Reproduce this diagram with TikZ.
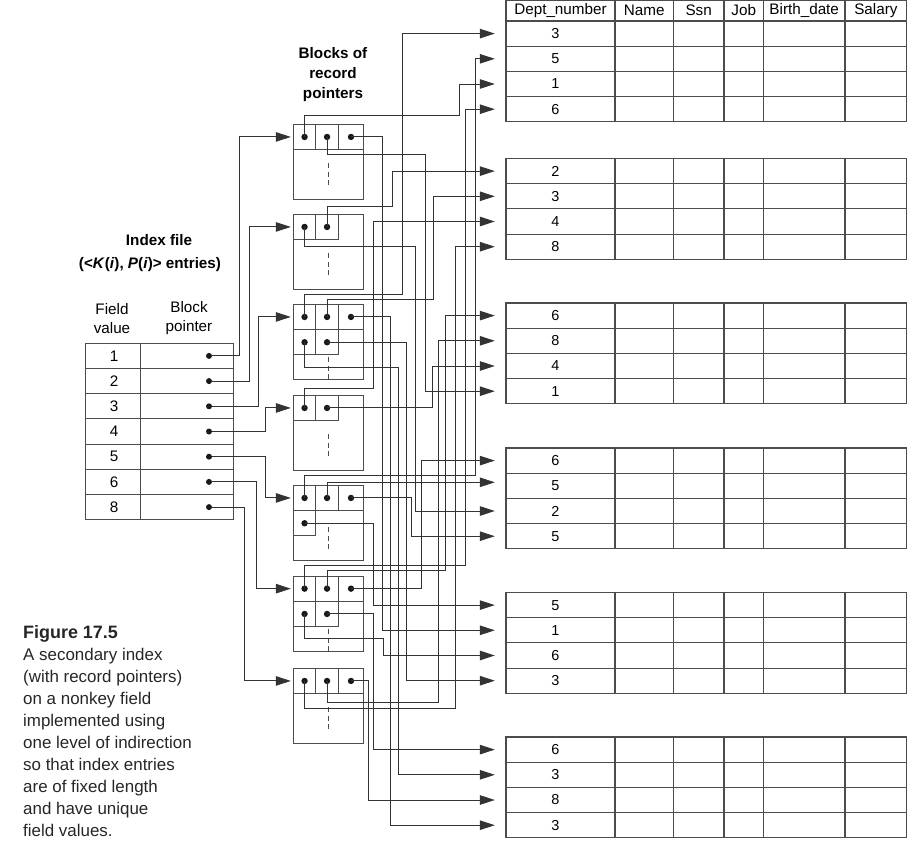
\documentclass[tikz,border=0pt]{standalone}
\usepackage{fontspec}
\setmainfont{Liberation Sans}
\usetikzlibrary{arrows.meta}

\tikzset{
	tbl/.style={draw=black!70, line width=1.1bp},
	wire/.style={draw=black!80, line width=1bp, -{Triangle[length=15bp,width=9.5bp]}},
	idxwire/.style={wire, shorten >=2bp},
	recwire/.style={wire, shorten >=6bp},
	ptrcell/.style={draw=black!70, line width=1bp, minimum width=22.5bp, minimum height=25.3bp, inner sep=0pt,
		path picture={\fill[black!90] (path picture bounding box.center) circle (3.2bp);}},
	lastcell/.style={ptrcell, minimum width=25.4bp},
	blk/.style={draw=black!70, line width=1bp, minimum width=70.4bp, minimum height=75.5bp, inner sep=0pt},
	vdash/.style={draw=black!70, line width=1bp, dash pattern=on 5bp off 3.5bp},
	ptrdot/.style={circle, fill=black!90, inner sep=0pt, minimum size=6bp},
	recval/.style={minimum width=109bp, minimum height=25.2bp, inner sep=0pt, font=\fontsize{14.5}{17}\selectfont},
	lbl/.style={font=\fontsize{15.3}{19}\selectfont, align=center, inner sep=0pt},
}

\begin{document}
\begin{tikzpicture}[x=1bp, y=-1bp]
	\useasboundingbox (0,0) rectangle (922,842);
	\def\rh{25.2}

	% data file
	\draw[tbl] (506,0.5) rectangle (906.7,21);
	\foreach \cx in {615,673.3,724,763.3,845} \draw[tbl] (\cx,0.5) -- (\cx,21);
	\foreach \cx/\txt [count=\hh] in {560.5/Dept\_number, 644.2/Name, 698.7/Ssn, 743.7/Job, 804.2/Birth\_date, 875.9/Salary}
		\node[lbl] (hd\hh) at (\cx,10.5) {\txt};

	\foreach \blk/\ytop/\vals in {A/21/{3,5,1,6}, B/158.5/{2,3,4,8}, C/303/{6,8,4,1}, D/448/{6,5,2,5}, E/592.5/{5,1,6,3}, F/737/{6,3,8,3}}{
		\draw[tbl] (506,\ytop) rectangle (906.7,\ytop+4*\rh);
		\foreach \row in {1,2,3} \draw[tbl] (506,\ytop+\row*\rh) -- (906.7,\ytop+\row*\rh);
		\foreach \cx in {615,673.3,724,763.3,845} \draw[tbl] (\cx,\ytop) -- (\cx,\ytop+4*\rh);
		\foreach \val [count=\row] in \vals
			\node[recval] (\blk\row) at (555.5,\ytop+\row*\rh-\rh/2) {\val};
	}

	% blocks of record pointers
	\node[lbl, font=\bfseries\fontsize{15.3}{20.5}\selectfont] (bl) at (333,74.5) {Blocks of\\record\\pointers};
	\foreach \kb/\ytop/\dd in {1/124.3/39, 2/214.3/39, 3/304.3/53, 4/395.3/39, 5/485.3/42, 6/576/53, 7/668.3/39}{
		\node[blk] (pb\kb) at (328.5,\ytop+37.75) {};
		\draw[vdash] (328.5,\ytop+\dd) -- (328.5,\ytop+\dd+22);
	}
	\node[ptrcell] (p1a) at (304.55,136.95) {};
	\node[ptrcell] (p1b) at (327.05,136.95) {};
	\node[lastcell] (p1c) at (351,136.95) {};
	\node[ptrcell] (p2a) at (304.55,226.95) {};
	\node[ptrcell] (p2b) at (327.05,226.95) {};
	\node[ptrcell] (p3a) at (304.55,316.95) {};
	\node[ptrcell] (p3b) at (327.05,316.95) {};
	\node[lastcell] (p3c) at (351,316.95) {};
	\node[ptrcell] (p3d) at (304.55,342.25) {};
	\node[ptrcell] (p3e) at (327.05,342.25) {};
	\node[ptrcell] (p4a) at (304.55,407.95) {};
	\node[ptrcell] (p4b) at (327.05,407.95) {};
	\node[ptrcell] (p5a) at (304.55,497.95) {};
	\node[ptrcell] (p5b) at (327.05,497.95) {};
	\node[lastcell] (p5c) at (351,497.95) {};
	\node[ptrcell] (p5d) at (304.55,523.25) {};
	\node[ptrcell] (p6a) at (304.55,588.65) {};
	\node[ptrcell] (p6b) at (327.05,588.65) {};
	\node[lastcell] (p6c) at (351,588.65) {};
	\node[ptrcell] (p6d) at (304.55,613.95) {};
	\node[ptrcell] (p6e) at (327.05,613.95) {};
	\node[ptrcell] (p7a) at (304.55,680.95) {};
	\node[ptrcell] (p7b) at (327.05,680.95) {};
	\node[lastcell] (p7c) at (351,680.95) {};

	% index file
	\node[lbl, font=\bfseries\fontsize{15.3}{19}\selectfont] (ix) at (159,240) {Index file};
	\node[lbl, font=\bfseries\fontsize{15.3}{19}\selectfont] (ixe) at (150,265) {(<\textit{K}(\textit{i}), \textit{P}(\textit{i})> entries)};
	\node[lbl] (fvh) at (112,318.5) {Field\\value};
	\node[lbl] (bph) at (189,318.5) {Block\\pointer};
	\draw[tbl] (85.7,343.3) rectangle (233.3,519.7);
	\draw[tbl] (140.7,343.3) -- (140.7,519.7);
	\foreach \row in {1,...,6} \draw[tbl] (85.7,343.3+\row*\rh) -- (233.3,343.3+\row*\rh);
	\foreach \val [count=\row] in {1,2,3,4,5,6,8}{
		\node[lbl] (fv\row) at (114,343.3+\row*\rh-\rh/2) {\val};
		\node[ptrdot] (i\row) at (209,343.3+\row*\rh-\rh/2) {};
	}

	% index entries to blocks
	\draw[idxwire] (i1) -- ++(30.3,0) |- (pb1.west |- p1a);
	\draw[idxwire] (i2) -- ++(40,0) |- (pb2.west |- p2a);
	\draw[idxwire] (i3) -- ++(49.3,0) |- (pb3.west |- p3a);
	\draw[idxwire] (i4) -- ++(56.7,0) |- (pb4.west |- p4a);
	\draw[idxwire] (i5) -- ++(56.7,0) |- (pb5.west |- p5a);
	\draw[idxwire] (i6) -- ++(47.7,0) |- (pb6.west |- p6a);
	\draw[idxwire] (i7) -- ++(35,0) |- (pb7.west |- p7a);

	% record pointers to records
	\draw[recwire] (p1a.center) |- (459.3,115) |- (A3);
	\draw[recwire] (p1b.center) |- (425,154.3) |- (C4);
	\draw[recwire] (p1c.center) -- ++(31.7,0) |- (E2);
	\draw[recwire] (p2a.center) |- (415.7,246.7) |- (D3);
	\draw[recwire] (p2b.center) |- (392.3,206.7) |- (B1);
	\draw[recwire] (p3a.center) |- (402.3,294.3) |- (A1);
	\draw[recwire] (p3b.center) |- (433.3,299.3) |- (B2);
	\draw[recwire] (p3c.center) -- ++(39.3,0) |- (F4);
	\draw[recwire] (p3d.center) |- (398.3,367.3) |- (F2);
	\draw[recwire] (p3e.center) -- ++(78.95,0) |- (E4);
	\draw[recwire] (p4a.center) |- (373.3,388.7) |- (B3);
	\draw[recwire] (p4b.center) -- ++(105.25,0) |- (C3);
	\draw[recwire] (p5a.center) |- (475,475) |- (A2);
	\draw[recwire] (p5b.center) |- ([yshift=3.5bp]D2.west);
	\draw[recwire] (p5c.center) -- ++(60,0) |- (D4);
	\draw[recwire] (p5d.center) -- ++(68.75,0) |- (E1);
	\draw[recwire] (p6a.center) |- (465.7,565) |- (A4);
	\draw[recwire] (p6b.center) |- (445,570.7) |- (C1);
	\draw[recwire] (p6c.center) -- ++(70.7,0) |- (D1);
	\draw[recwire] (p6d.center) |- (383.3,638.3) |- (E3);
	\draw[recwire] (p6e.center) -- ++(46.25,0) |- (F1);
	\draw[recwire] (p7a.center) |- (455.5,708.7) |- (B4);
	\draw[recwire] (p7b.center) |- (438.3,702) |- (C2);
	\draw[recwire] (p7c.center) -- ++(17.3,0) |- (F3);

	% caption
	\node[anchor=north west, align=left, inner sep=0pt, text=black!85, font=\fontsize{17}{22.1}\selectfont] (cap) at (23,625.3)
		{{\bfseries\fontsize{18}{22.1}\selectfont Figure 17.5}\\A secondary index\\(with record pointers)\\on a nonkey field\\implemented using\\one level of indirection\\so that index entries\\are of fixed length\\and have unique\\field values.};
\end{tikzpicture}
\end{document}
